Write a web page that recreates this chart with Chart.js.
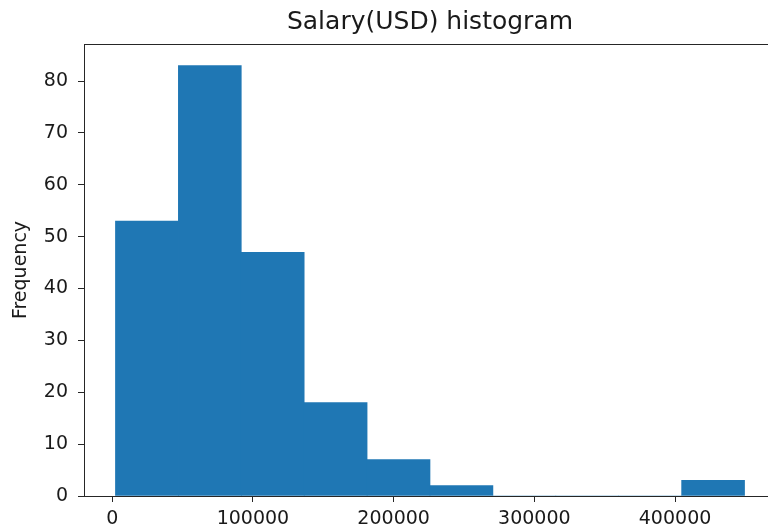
<!DOCTYPE html>
<html>
<head>
<meta charset="utf-8">
<script src="https://cdn.jsdelivr.net/npm/chart.js@4/dist/chart.umd.min.js"></script>
<style>
  html, body { margin: 0; padding: 0; background: #fff; overflow: hidden; }
  #wrap { width: 860px; height: 531px; }
</style>
</head>
<body>
<div id="wrap"><canvas id="c" width="860" height="531"></canvas></div>
<script>
const chartTitle = "Salary(USD) histogram";
const yAxisTitle = "Frequency";
const binEdges = [2300, 47010, 91720, 136430, 181140, 225850, 270560, 315270, 359980, 404690, 449400];
const binCounts = [53, 83, 47, 18, 7, 2, 0, 0, 0, 3];
const xTickValues = [0, 100000, 200000, 300000, 400000];
const yTickValues = [0, 10, 20, 30, 40, 50, 60, 70, 80];
const xRange = [-20055, 471755];
const yRange = [0, 87.15];

const points = binCounts.map((c, i) => ({ x: (binEdges[i] + binEdges[i + 1]) / 2, y: c }));

const FONT = "'DejaVu Sans', sans-serif";
const TXT = '#1a1a1a';
const AX = '#262626';

const frame = {
  id: 'frame',
  afterDraw(chart) {
    const { ctx, chartArea: a } = chart;
    ctx.save();
    ctx.strokeStyle = AX;
    ctx.lineWidth = 1;
    ctx.strokeRect(Math.round(a.left) + 0.5, Math.round(a.top) + 0.5,
                   Math.round(a.right - a.left), Math.round(a.bottom - a.top));
    ctx.restore();
  }
};

new Chart(document.getElementById('c'), {
  type: 'bar',
  data: {
    datasets: [{
      data: points,
      backgroundColor: '#1f77b4',
      borderWidth: 0,
      barPercentage: 1,
      categoryPercentage: 1,
      grouped: false
    }]
  },
  options: {
    responsive: false,
    animation: false,
    devicePixelRatio: 1,
    layout: { padding: 0 },
    plugins: {
      legend: { display: false },
      tooltip: { enabled: false },
      title: {
        display: true,
        text: chartTitle,
        color: TXT,
        font: { family: FONT, size: 25, weight: 'normal' },
        padding: { top: 7, bottom: 7 }
      }
    },
    scales: {
      x: {
        type: 'linear',
        min: xRange[0],
        max: xRange[1],
        offset: false,
        afterBuildTicks(s) { s.ticks = xTickValues.map(v => ({ value: v })); },
        afterFit(s) { s.height = 35; },
        grid: { display: true, offset: false, drawOnChartArea: false, drawTicks: true, tickLength: 6, color: AX, tickColor: AX },
        border: { display: true, color: AX, width: 1 },
        ticks: {
          color: TXT,
          font: { family: FONT, size: 19 },
          padding: 6,
          maxRotation: 0,
          autoSkip: false,
          callback: v => String(v)
        }
      },
      y: {
        type: 'linear',
        min: yRange[0],
        max: yRange[1],
        afterBuildTicks(s) { s.ticks = yTickValues.map(v => ({ value: v })); },
        afterFit(s) { s.width = 84; },
        grid: { display: true, drawOnChartArea: false, drawTicks: true, tickLength: 6, color: AX, tickColor: AX },
        border: { display: true, color: AX, width: 1 },
        title: {
          display: true,
          text: yAxisTitle,
          color: TXT,
          font: { family: FONT, size: 19 },
          padding: { top: 10, bottom: 0 }
        },
        ticks: {
          color: TXT,
          font: { family: FONT, size: 19 },
          padding: 10,
          autoSkip: false
        }
      },
      yRight: {
        type: 'linear',
        position: 'right',
        display: true,
        min: yRange[0],
        max: yRange[1],
        afterFit(s) { s.width = 84; },
        grid: { display: false },
        border: { display: false },
        ticks: { display: false }
      }
    }
  },
  plugins: [frame]
});
</script>
</body>
</html>
